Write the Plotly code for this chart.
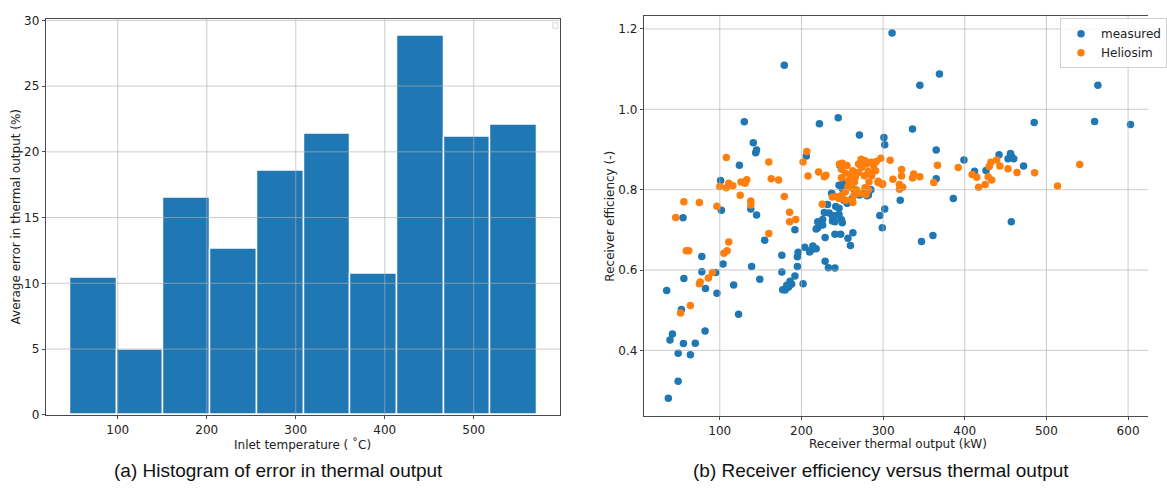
import plotly.graph_objects as go

# ---------------- data ----------------
bin_edges = [46.5, 99.0, 151.5, 204.0, 256.5, 309.0, 361.5, 414.0, 466.5, 519.0, 571.5]
avg_error = [10.45, 4.98, 16.55, 12.62, 18.56, 21.36, 10.75, 28.8, 21.12, 22.07]

measured_x = [311, 179, 345, 369, 563, 559, 603, 485,
              130, 245, 222, 336, 271, 301, 302,
              141, 145, 144, 365, 399, 442, 456, 457, 453, 460, 472, 412, 426,
              124, 206, 247, 101, 102, 138, 145, 55,
              365, 386, 321, 302, 296, 299, 361, 347, 457,
              237, 232, 251, 254, 280, 285, 265, 258, 254.5, 258, 283,
              253.8, 257, 260, 271, 278, 282, 246, 250, 246, 242, 234, 238, 226, 222, 220, 246, 250,
              241, 248, 257, 263, 260, 229, 238, 252, 256, 262,
              218, 220, 226, 228, 241, 241, 249,
              192, 204, 210, 214, 218, 212, 195, 196, 195, 192, 176, 176, 202,
              186, 185, 180, 177, 182, 188, 184,
              229, 233, 241, 155, 139, 149, 117, 104, 123, 96.5, 95, 78, 78, 82.5, 56, 35,
              53, 82, 70, 55.5, 42, 39, 49, 64, 49, 37]
measured_y = [1.19, 1.11, 1.06, 1.088, 1.06, 0.97, 0.962, 0.967,
              0.969, 0.979, 0.964, 0.951, 0.936, 0.93, 0.912,
              0.917, 0.899, 0.892, 0.899, 0.874, 0.887, 0.89, 0.884, 0.877, 0.877, 0.859, 0.846, 0.848,
              0.861, 0.884, 0.861, 0.823, 0.749, 0.752, 0.737, 0.73,
              0.827, 0.778, 0.774, 0.752, 0.736, 0.705, 0.686, 0.671, 0.72,
              0.791, 0.763, 0.815, 0.81, 0.785, 0.80, 0.80, 0.82, 0.771, 0.77, 0.80,
              0.815, 0.821, 0.807, 0.787, 0.799, 0.787, 0.811, 0.803, 0.754, 0.758, 0.742, 0.734, 0.726, 0.718, 0.705, 0.738, 0.718,
              0.689, 0.689, 0.679, 0.693, 0.661, 0.681, 0.722, 0.774, 0.766, 0.778,
              0.702, 0.72, 0.712, 0.743, 0.735, 0.72, 0.725,
              0.70, 0.657, 0.645, 0.66, 0.653, 0.65, 0.633, 0.644, 0.609, 0.585, 0.637, 0.595, 0.566,
              0.572, 0.561, 0.55, 0.551, 0.562, 0.565, 0.557,
              0.622, 0.606, 0.605, 0.674, 0.609, 0.577, 0.563, 0.615, 0.49, 0.542, 0.594, 0.634, 0.596, 0.554, 0.579, 0.549,
              0.502, 0.448, 0.418, 0.417, 0.441, 0.426, 0.393, 0.389, 0.323, 0.281]

heliosim_x = [206.5, 202, 208, 160, 163, 172, 179, 185.5, 185.5, 193, 160,
              108, 100, 108, 111, 116, 126, 133, 131, 125, 138, 138, 96.5, 56, 75, 46,
              59, 62, 105, 109, 111, 75, 76, 86, 91, 64, 52,
              221, 230, 228, 225.5, 243, 250,
              246.6, 249, 253.8, 257.8, 260.2, 262.7, 265.9, 269.9, 273.1, 273.9, 277.1, 279.5, 281.9, 285.1,
              288.4, 291.6, 297.2, 294, 299.6, 245.8, 249.8, 253.8, 257, 261.8, 265, 267.5, 271.5, 277.9,
              281.9, 282.7, 253.8, 261.8, 264.3, 286, 290.8, 249, 255.8, 269.9, 277.9, 237.8, 279, 262.9,
              308.6, 312, 322.6, 322.6, 320, 324, 320, 299, 294, 337.5, 336, 345, 366.6, 362, 392,
              409, 414.7, 417, 425, 428.6, 430, 432, 433, 439, 443, 453, 464, 485.6, 513.6, 540.8]
heliosim_y = [0.895, 0.869, 0.834, 0.869, 0.827, 0.824, 0.783, 0.744, 0.72, 0.726, 0.691,
              0.88, 0.808, 0.805, 0.816, 0.81, 0.819, 0.825, 0.816, 0.786, 0.772, 0.762, 0.759, 0.77, 0.768, 0.731,
              0.648, 0.648, 0.642, 0.648, 0.67, 0.566, 0.57, 0.58, 0.594, 0.512, 0.493,
              0.844, 0.836, 0.832, 0.764, 0.783, 0.866,
              0.864, 0.83, 0.841, 0.823, 0.838, 0.847, 0.831, 0.843, 0.876, 0.856, 0.835, 0.864, 0.846, 0.868,
              0.86, 0.87, 0.878, 0.821, 0.815, 0.778, 0.787, 0.795, 0.808, 0.805, 0.819, 0.799, 0.791, 0.805,
              0.8, 0.819, 0.774, 0.774, 0.786, 0.835, 0.847, 0.851, 0.86, 0.864, 0.872, 0.782, 0.788, 0.768,
              0.873, 0.826, 0.85, 0.834, 0.801, 0.806, 0.813, 0.813, 0.818, 0.839, 0.829, 0.832, 0.861, 0.818, 0.855,
              0.838, 0.831, 0.806, 0.813, 0.832, 0.858, 0.868, 0.824, 0.874, 0.859, 0.852, 0.843, 0.842, 0.809, 0.863]

left_xticks = [100, 200, 300, 400, 500]
left_yticks = [0, 5, 10, 15, 20, 25, 30]
right_xticks = [100, 200, 300, 400, 500, 600]
right_yticks = [0.4, 0.6, 0.8, 1.0, 1.2]
right_yticklabels = ["0.4", "0.6", "0.8", "1.0", "1.2"]

# ---------------- figure ----------------
W, H = 1167, 493
BLUE = "#1f77b4"
ORANGE = "#ff7f0e"
SPINE = "#4a4a4a"
GRID = "rgba(176,176,176,0.65)"
TICKFONT = dict(family="DejaVu Sans", size=12, color="#222")

centers = [(bin_edges[i] + bin_edges[i + 1]) / 2 for i in range(len(avg_error))]
widths = [bin_edges[i + 1] - bin_edges[i] for i in range(len(avg_error))]

fig = go.Figure()
fig.add_trace(go.Bar(x=centers, y=avg_error, width=widths,
                     marker=dict(color=BLUE, line=dict(color="white", width=1.5)),
                     showlegend=False, xaxis="x", yaxis="y"))
fig.add_trace(go.Scatter(x=measured_x, y=measured_y, mode="markers", name="measured",
                         marker=dict(color=BLUE, size=7.5, line=dict(width=0)),
                         xaxis="x2", yaxis="y2"))
fig.add_trace(go.Scatter(x=heliosim_x, y=heliosim_y, mode="markers", name="Heliosim",
                         marker=dict(color=ORANGE, size=7.5, line=dict(width=0)),
                         xaxis="x2", yaxis="y2"))

def px_x(p):
    return p / W

def px_y(p):
    return 1 - p / H

axis_common = dict(showgrid=False, zeroline=False, showline=True, linecolor=SPINE, linewidth=1,
                   ticks="outside", ticklen=3.5, tickwidth=1, tickcolor=SPINE, tickfont=TICKFONT)

fig.update_layout(
    width=W, height=H, margin=dict(l=0, r=0, t=0, b=0),
    paper_bgcolor="white", plot_bgcolor="white",
    bargap=0,
    xaxis=dict(domain=[px_x(47), px_x(569)], range=[19.6, 596.6], tickvals=left_xticks,
               mirror=True, anchor="y", **axis_common),
    yaxis=dict(domain=[px_y(420), px_y(14)], range=[0, 30.13], tickvals=left_yticks,
               mirror=True, anchor="x", **axis_common),
    xaxis2=dict(domain=[px_x(655), 1.0], range=[7.6, 624.4], tickvals=right_xticks,
                mirror=True, anchor="y2", **axis_common),
    yaxis2=dict(domain=[px_y(421), px_y(11)], range=[0.2373, 1.233], tickvals=right_yticks,
                ticktext=right_yticklabels, mirror=False, anchor="x2", **axis_common),
    legend=dict(x=px_x(1078), y=px_y(13.5), xanchor="left", yanchor="top",
                bgcolor="rgba(255,255,255,0.8)", bordercolor="#d0d0d0", borderwidth=1,
                font=dict(family="DejaVu Sans", size=12, color="#222"),
                itemwidth=30, tracegroupgap=0),
)

shapes = []
for v in left_xticks:
    shapes.append(dict(type="line", xref="x", yref="y domain", x0=v, x1=v, y0=0, y1=1,
                       line=dict(color=GRID, width=1), layer="above"))
for v in left_yticks[1:]:
    shapes.append(dict(type="line", xref="x domain", yref="y", x0=0, x1=1, y0=v, y1=v,
                       line=dict(color=GRID, width=1), layer="above"))
for v in right_xticks:
    shapes.append(dict(type="line", xref="x2", yref="y2 domain", x0=v, x1=v, y0=0, y1=1,
                       line=dict(color=GRID, width=1), layer="above"))
for v in right_yticks:
    shapes.append(dict(type="line", xref="x2 domain", yref="y2", x0=0, x1=1, y0=v, y1=v,
                       line=dict(color=GRID, width=1), layer="above"))
# empty legend box of the left panel
shapes.append(dict(type="rect", xref="paper", yref="paper",
                   x0=px_x(562), x1=px_x(567), y0=px_y(24), y1=px_y(18),
                   line=dict(color="#d8d8d8", width=1), fillcolor="white", layer="above"))
fig.update_layout(shapes=shapes)

LABELFONT = dict(family="DejaVu Sans", size=12, color="#222")
CAPFONT = dict(family="Liberation Sans, Arial", size=19, color="#111")
annotations = [
    dict(text="Inlet temperature ( \u02daC)", x=px_x(308), y=px_y(450), xref="paper", yref="paper",
         showarrow=False, font=LABELFONT, xanchor="center", yanchor="middle"),
    dict(text="Average error in thermal output (%)", x=px_x(16), y=px_y(217), xref="paper", yref="paper",
         showarrow=False, font=LABELFONT, textangle=-90, xanchor="center", yanchor="middle"),
    dict(text="Receiver thermal output (kW)", x=px_x(913), y=px_y(450), xref="paper", yref="paper",
         showarrow=False, font=LABELFONT, xanchor="center", yanchor="middle"),
    dict(text="Receiver efficiency (-)", x=px_x(620), y=px_y(216), xref="paper", yref="paper",
         showarrow=False, font=LABELFONT, textangle=-90, xanchor="center", yanchor="middle"),
    dict(text="(a) Histogram of error in thermal output", x=px_x(283), y=px_y(477), xref="paper", yref="paper",
         showarrow=False, font=CAPFONT, xanchor="center", yanchor="middle"),
    dict(text="(b) Receiver efficiency versus thermal output", x=px_x(896), y=px_y(477), xref="paper", yref="paper",
         showarrow=False, font=CAPFONT, xanchor="center", yanchor="middle"),
]
fig.update_layout(annotations=annotations)

fig.write_html("out.html")
